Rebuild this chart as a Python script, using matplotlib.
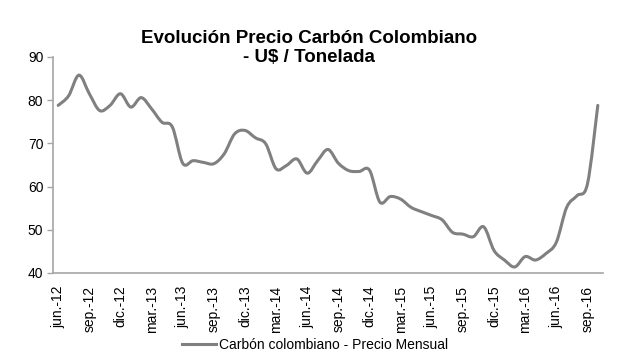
import numpy as np
import matplotlib
matplotlib.use("Agg")
import matplotlib.pyplot as plt
from matplotlib.path import Path
from matplotlib.patches import PathPatch
from matplotlib.lines import Line2D

# precio mensual jun-12 .. oct-16 (US$/ton)
precio = [78.8, 81.0, 85.8, 81.5, 77.6, 78.8, 81.5, 78.4, 80.6, 78.0,
          74.9, 73.8, 65.4, 66.0, 65.6, 65.3, 67.6, 72.2, 73.0, 71.3,
          69.9, 64.1, 64.9, 66.4, 63.1, 66.0, 68.6, 65.4, 63.7, 63.5,
          63.8, 56.4, 57.7, 57.1, 55.2, 54.2, 53.3, 52.3, 49.4, 49.0,
          48.4, 50.7, 45.2, 43.0, 41.4, 43.8, 43.0, 44.5, 47.1, 55.2,
          57.9, 60.6, 78.8]
tick_labels = ["jun.-12", "sep.-12", "dic.-12", "mar.-13", "jun.-13", "sep.-13",
               "dic.-13", "mar.-14", "jun.-14", "sep.-14", "dic.-14", "mar.-15",
               "jun.-15", "sep.-15", "dic.-15", "mar.-16", "jun.-16", "sep.-16"]
yticks = [40, 50, 60, 70, 80, 90]

LINE_C = "#808080"
AXIS_C = "#a6a6a6"
plt.rcParams["font.family"] = ["Liberation Sans", "DejaVu Sans"]


def smooth_path(x, y):
    # curva suavizada tipo Excel (bezier cúbica, catmull-rom)
    pts = np.column_stack([x, y]).astype(float)
    n = len(pts)
    verts = [pts[0]]
    codes = [Path.MOVETO]
    for i in range(n - 1):
        p0 = pts[i - 1] if i > 0 else pts[i]
        p1, p2 = pts[i], pts[i + 1]
        p3 = pts[i + 2] if i + 2 < n else pts[i + 1]
        verts += [p1 + (p2 - p0) / 6., p2 - (p3 - p1) / 6., p2]
        codes += [Path.CURVE4] * 3
    return Path(verts, codes)


fig = plt.figure(figsize=(6.18, 3.63), dpi=100)
ax = fig.add_axes([53 / 618, 1 - 273 / 363, 550 / 618, 216 / 363])

x = np.arange(len(precio))
ax.add_patch(PathPatch(smooth_path(x, precio), fill=False, color=LINE_C,
                       lw=2.2, capstyle="round", joinstyle="round"))

ax.set_xlim(-0.5, len(precio) - 0.5)
ax.set_ylim(40, 90)
ax.set_yticks(yticks)
ax.set_xticks(x[::3])
ax.set_xticklabels(tick_labels, rotation=90, fontsize=10)
ax.tick_params(axis="y", labelsize=10, length=4, width=1, color=AXIS_C, pad=3)
ax.tick_params(axis="x", length=0, pad=9)
for s in ["top", "right"]:
    ax.spines[s].set_visible(False)
for s in ["left", "bottom"]:
    ax.spines[s].set_color(AXIS_C)
    ax.spines[s].set_linewidth(1.2)

fig.text(0.5, 1 - 48 / 363, "Evolución Precio Carbón Colombiano\n- U$ / Tonelada",
         ha="center", va="center", multialignment="center",
         fontsize=13.5, fontweight="bold", linespacing=1.2)

h = Line2D([], [], color=LINE_C, lw=2.2)
fig.legend([h], ["Carbón colombiano - Precio Mensual"], loc="center",
           bbox_to_anchor=(315 / 618, 1 - 345 / 363), frameon=False,
           fontsize=10, handlelength=2.45, handletextpad=0.25)

fig.savefig("out.png", dpi=100)
